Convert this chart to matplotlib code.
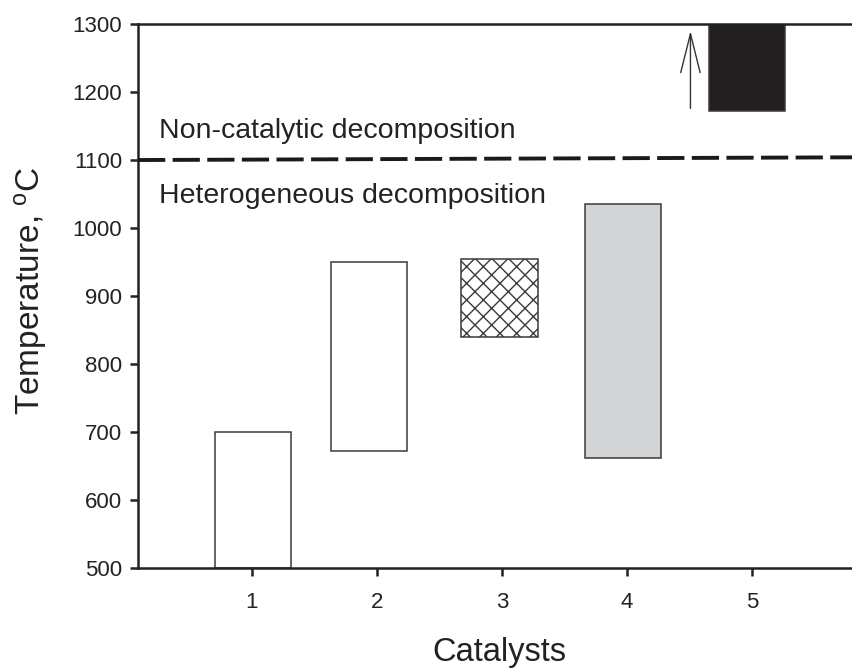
import matplotlib
matplotlib.use("Agg")
import matplotlib.pyplot as plt

plt.rcParams['font.family'] = ['Liberation Sans', 'DejaVu Sans']

# catalyst temperature ranges (oC)
catalysts = [1, 2, 3, 4, 5]
bar_x = [1.01, 1.94, 2.98, 3.97, 4.96]
t_low = [500, 672, 840, 662, 1172]
t_high = [700, 950, 955, 1036, 1300]
faces = ['white', 'white', 'white', '#d3d4d6', '#231f20']
hatches = [None, None, 'xx', None, None]

# boundary between heterogeneous and non-catalytic decomposition
boundary_x = [0.09, 5.8]
boundary_y = [1100, 1104]

fig = plt.figure(figsize=(8.52, 6.68), dpi=100)
ax = fig.add_axes([0.162, 0.1497, 0.838, 0.8143])

for x, lo, hi, fc, h in zip(bar_x, t_low, t_high, faces, hatches):
    ax.bar(x, hi - lo, bottom=lo, width=0.61, color=fc, edgecolor='#3a3a3a',
           linewidth=1.1, hatch=h, zorder=2)

ax.plot(boundary_x, boundary_y, color='#1a1a1a', lw=2.8, dashes=(7, 1.9), zorder=3)
ax.annotate('', xy=(4.508, 1290), xytext=(4.508, 1176),
            arrowprops=dict(arrowstyle='->,head_length=2.8,head_width=0.7',
                            color='#333333', lw=1.0, shrinkA=0, shrinkB=0))

ax.text(0.26, 1133, 'Non-catalytic decomposition', fontsize=20.5, color='#222222')
ax.text(0.26, 1037, 'Heterogeneous decomposition', fontsize=20.5, color='#222222')

ax.set_xlim(0.09, 5.8)
ax.set_ylim(500, 1300)
ax.set_xticks(catalysts)
ax.set_yticks(range(500, 1301, 100))
ax.tick_params(direction='out', length=5.5, width=1.8, labelsize=16, colors='#222222')
ax.tick_params(axis='y', pad=6)
ax.tick_params(axis='x', pad=12)
ax.spines['right'].set_visible(False)
for s in ['left', 'top', 'bottom']:
    ax.spines[s].set_linewidth(1.8)
    ax.spines[s].set_color('#222222')

fig.text(499 / 852, 1 - 652 / 668, 'Catalysts', fontsize=23.5,
         ha='center', va='center', color='#222222')
fig.text(31 / 852, 1 - 291 / 668, 'Temperature, $\\mathregular{^oC}$', fontsize=24,
         rotation=90, ha='center', va='center', color='#222222')

fig.savefig('out.png', dpi=100)
